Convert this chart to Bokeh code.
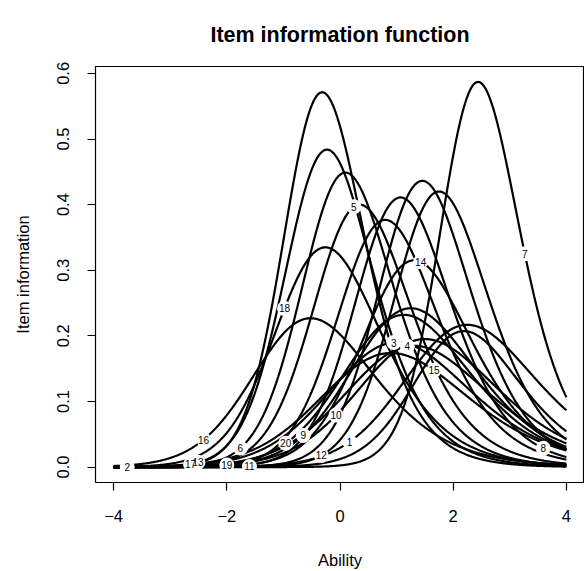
import numpy as np
from bokeh.plotting import figure
from bokeh.models import Range1d, FixedTicker, ColumnDataSource
from bokeh.embed import file_html
from bokeh.resources import INLINE
from bokeh.core.properties import value

# ---- item parameters (3PL) ----
items          = [1, 2, 3, 4, 5, 6, 7, 8, 9, 10, 11, 12, 13, 14, 15, 16, 17, 18, 19, 20]
discrimination = [1.128, 1.350, 1.056, 1.042, 1.532, 1.623, 1.856, 1.553, 1.192, 1.070,
                  1.600, 1.570, 1.685, 1.360, 1.010, 1.211, 1.831, 1.402, 1.487, 1.167]
difficulty     = [2.013, 1.878, 0.747, 1.044, 0.176, -0.068, 2.296, 0.898, 1.026, 1.250,
                  1.288, 1.580, -0.388, 1.114, 0.636, -0.778, -0.461, -0.450, 0.620, 0.901]
guessing       = [0.20, 0.40, 0.20, 0.20, 0.20, 0.20, 0.20, 0.20, 0.20, 0.20,
                  0.20, 0.20, 0.20, 0.20, 0.20, 0.25, 0.20, 0.20, 0.20, 0.20]
label_theta    = [0.17, -3.76, 0.95, 1.19, 0.245, -1.76, 3.265, 3.59, -0.65, -0.07,
                  -1.60, -0.33, -2.51, 1.425, 1.66, -2.41, -2.64, -0.98, -2.00, -0.96]

x_ticks = [-4, -2, 0, 2, 4]
y_ticks = [0.0, 0.1, 0.2, 0.3, 0.4, 0.5, 0.6]
y_tick_labels = ["0.0", "0.1", "0.2", "0.3", "0.4", "0.5", "0.6"]

ability = np.linspace(-4, 4, 801)


def item_info(a, b, c, t):
    t = np.asarray(t, dtype=float)
    L = 1.0 / (1.0 + np.exp(-a * (t - b)))
    P = c + (1 - c) * L
    return a ** 2 * (1 - c) * L ** 2 * (1 - L) / P


FONT = "Liberation Sans"

p = figure(width=584, height=571,
           x_range=Range1d(-4.32, 4.32), y_range=Range1d(-0.0235, 0.6105),
           output_backend="svg", toolbar_location=None,
           min_border_left=95, min_border_right=0, min_border_top=65, min_border_bottom=86,
           title="Item information function")

p.background_fill_color = "white"
p.border_fill_color = "white"
p.outline_line_color = "black"
p.outline_line_width = 1.2
p.grid.visible = False

p.title.align = "center"
p.title.text_font = FONT
p.title.text_font_size = "21.5px"
p.title.text_font_style = "bold"
p.title.text_color = "black"
if "standoff" in p.title.properties():
    p.title.standoff = 40

for ax in (p.xaxis[0], p.yaxis[0]):
    ax.axis_line_color = None
    ax.major_tick_line_color = "black"
    ax.major_tick_line_width = 1.2
    ax.major_tick_out = 8
    ax.major_tick_in = 0
    ax.minor_tick_line_color = None
    ax.major_label_text_font = FONT
    ax.major_label_text_font_size = "16.5px"
    ax.major_label_text_color = "black"
    ax.axis_label_text_font = FONT
    ax.axis_label_text_font_size = "16.5px"
    ax.axis_label_text_font_style = "normal"
    ax.axis_label_text_color = "black"

p.xaxis.ticker = FixedTicker(ticks=x_ticks)
p.yaxis.ticker = FixedTicker(ticks=y_ticks)
p.yaxis.major_label_overrides = {t: s for t, s in zip(y_ticks, y_tick_labels)}
p.yaxis.major_label_orientation = "vertical"
p.xaxis.axis_label = "Ability"
p.yaxis.axis_label = "Item information"
p.xaxis.major_label_standoff = 19
p.xaxis.axis_label_standoff = 26
p.yaxis.major_label_standoff = 18
p.yaxis.axis_label_standoff = 23

for a, b, c in zip(discrimination, difficulty, guessing):
    p.line(ability, item_info(a, b, c, ability), line_color="black", line_width=2.2)

lab_y = [float(item_info(a, b, c, t)) for a, b, c, t in
         zip(discrimination, difficulty, guessing, label_theta)]
src = ColumnDataSource(dict(x=label_theta, y=lab_y, t=[str(i) for i in items]))
p.scatter("x", "y", source=src, size=15, fill_color="white", line_color=None)
p.text("x", "y", text="t", source=src, text_font=value(FONT), text_font_size="10px",
       text_align="center", text_baseline="middle", text_color="black")

open("out.html", "w").write(file_html(p, INLINE))
